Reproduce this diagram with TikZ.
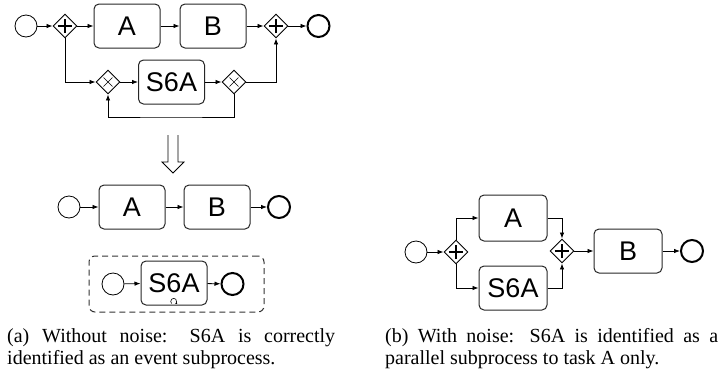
\documentclass[tikz,border=0pt]{standalone}
\usepackage{fontspec}
\setmainfont{Liberation Serif}
\newfontfamily\bpmnfont{Liberation Sans}
\usetikzlibrary{shapes.geometric,arrows.meta}
\tikzset{
  flow/.style={draw=black, line width=0.8pt, -{Latex[length=6pt,width=4.5pt]}},
  task/.style={draw=black!85, line width=1pt, rounded corners=5pt, minimum width=66pt, minimum height=44pt, inner sep=0pt, font=\bpmnfont\fontsize{27}{27}\selectfont},
  startev/.style={circle, draw=black, line width=0.8pt, minimum size=22pt, inner sep=0pt},
  endev/.style={circle, draw=black, line width=2pt, minimum size=22pt, inner sep=0pt},
  gwbase/.style={diamond, draw=black, line width=0.9pt, minimum width=24pt, minimum height=24pt, inner sep=0pt},
  andgw/.style={gwbase, path picture={
     \draw[line width=2.8pt] ([xshift=-7.2pt]path picture bounding box.center) -- ([xshift=7.2pt]path picture bounding box.center);
     \draw[line width=2.8pt] ([yshift=-7.2pt]path picture bounding box.center) -- ([yshift=7.2pt]path picture bounding box.center);}},
  xorgw/.style={gwbase, path picture={
     \draw[line width=0.6pt] ([shift={(-4.5pt,-4.5pt)}]path picture bounding box.center) -- ([shift={(4.5pt,4.5pt)}]path picture bounding box.center);
     \draw[line width=0.6pt] ([shift={(-4.5pt,4.5pt)}]path picture bounding box.center) -- ([shift={(4.5pt,-4.5pt)}]path picture bounding box.center);}},
  esub/.style={draw=black!80, line width=1pt, dashed, dash pattern=on 6pt off 4pt, rounded corners=6pt, minimum width=175pt, minimum height=56pt, inner sep=0pt},
  captxt/.style={anchor=north west, inner sep=0pt, align=justify, font=\fontsize{20}{22}\selectfont}
}
\begin{document}
\begin{tikzpicture}[x=1pt,y=-1pt]
\useasboundingbox (0,0) rectangle (720,381);
% ---------- (a) top model ----------
\node[startev] (s1) at (26,26) {};
\node[andgw] (p1) at (65,26) {};
\node[task] (A1) at (127,26) {A};
\node[task] (B1) at (213,26) {B};
\node[andgw] (p2) at (276,26) {};
\node[endev] (e1) at (318.5,26) {};
\node[xorgw] (x1) at (108,82) {};
\node[task] (S1) at (171.5,82) {S6A};
\node[xorgw] (x2) at (234,82) {};
\coordinate (lp) at (171,117);
\draw[flow] (s1) -- (p1);
\draw[flow] (p1) -- (A1);
\draw[flow] (A1) -- (B1);
\draw[flow] (B1) -- (p2);
\draw[flow] (p2) -- (e1);
\draw[flow] (p1.south) |- (x1.west);
\draw[flow] (x1) -- (S1);
\draw[flow] (S1) -- (x2);
\draw[flow] (x2.east) -| (p2.south);
\draw[flow] (x2.south) |- (lp) -| (x1.south);
% ---------- transformation arrow ----------
\draw[line width=0.8pt, line join=miter] (168,135) -- (168,162) -- (162,162) -- (173,173) -- (184,162) -- (178,162) -- (178,135);
% ---------- (a) result ----------
\node[startev] (s2) at (69,207) {};
\node[task] (A2) at (132,207) {A};
\node[task] (B2) at (217,207) {B};
\node[endev] (e2) at (279,207) {};
\draw[flow] (s2) -- (A2);
\draw[flow] (A2) -- (B2);
\draw[flow] (B2) -- (e2);
\node[esub] (ES) at (176.5,284) {};
\node[startev] (s3) at (113,284) {};
\node[task] (S3) at (174,283) {S6A};
\node[endev] (e3) at (232.5,284) {};
\draw[flow] (s3) -- (S3);
\draw[flow] (S3) -- (e3);
\draw[line width=0.6pt, -{Latex[length=1.8pt,width=2.2pt]}] ([shift={(-2.4pt,2pt)}]S3.south) arc[start angle=225, end angle=-60, radius=3pt];
% ---------- (b) noisy model ----------
\node[startev] (s4) at (416,252) {};
\node[andgw] (p3) at (456,252) {};
\node[task, minimum width=68pt, minimum height=46pt] (A4) at (513,218) {A};
\node[task, minimum width=68pt] (S4) at (513,288) {S6A};
\node[andgw] (p4) at (562,251) {};
\node[task, minimum width=68pt] (B4) at (628,251) {B};
\node[endev] (e4) at (692,251) {};
\draw[flow] (s4) -- (p3);
\draw[flow] (p3.north) |- (A4.west);
\draw[flow] (p3.south) |- (S4.west);
\draw[flow] (A4.east) -| (p4.north);
\draw[flow] (S4.east) -| (p4.south);
\draw[flow] (p4) -- (B4);
\draw[flow] (B4) -- (e4);
% ---------- captions ----------
\node[captxt, text width=328pt] (capa) at (7,328) {(a) Without noise: S6A is correctly\linebreak identified as an event subprocess.};
\node[captxt, text width=333pt] (capb) at (385,328) {(b) With noise: S6A is identified as a\linebreak parallel subprocess to task A only.};
\end{tikzpicture}
\end{document}
